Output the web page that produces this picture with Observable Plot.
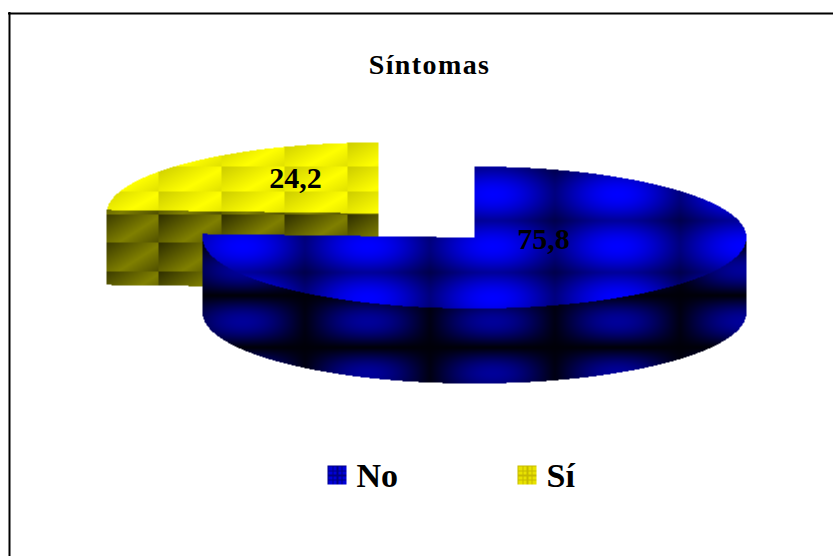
<!DOCTYPE html>
<html lang="es">
<head>
<meta charset="utf-8">
<title>Síntomas</title>
<style>
  html, body { margin: 0; padding: 0; background: #fff; }
  svg { display: block; }
</style>
<script src="https://cdn.jsdelivr.net/npm/d3@7"></script>
<script src="https://cdn.jsdelivr.net/npm/@observablehq/plot@0.6"></script>
</head>
<body>
<script>
// Survey shares: respondents reporting symptoms.
const chartTitle = "Síntomas";
const categories = ["No", "Sí"];
const shares = [75.8, 24.2];

// Layout of the 3D pie, in the chart's own pixel-sized units.
const W = 833, H = 556;
const pie = {cx: 474, cy: 237, rx: 272, ry: 71, depth: 75};
const explode = [[0, 0], [-96, -24]];      // displacement of each slice
const labelAt = [[543, 239], [295, 178]];  // where each share is written
const legendAt = [[327, 465], [517, 465]]; // top-left corner of each swatch
const swatch = 19;
const serif = "'Liberation Serif', serif";

const TAU = 2 * Math.PI;
const total = d3.sum(shares);
const clamp01 = (v) => Math.max(0, Math.min(1, v));
const frac = (v) => v - Math.floor(v);

// Blue surface: soft glow crossed by narrow dark bands.
const band = (v, at, period) => Math.pow(0.5 + 0.5 * Math.cos(TAU * (v - at) / period), 0.55);
function blueTop(x, y) {
  const b = 255 * (1 - 0.5 * (1 - band(x, 492, 125))) * (1 - 0.4 * (1 - band(y, 194, 52)));
  return `rgb(0,0,${Math.round(b)})`;
}
function blueSide(x, y) {
  const b = 8 + 145 * (0.08 + 0.92 * band(x, 492, 125)) * band(y, 321, 52);
  return `rgb(0,0,${Math.round(b)})`;
}

// Yellow surface: tiles with a diagonal sheen.
function sheen(x, y, y0, tileH) {
  const u = frac((x - 158) / 63), w = frac((y - y0) / tileH);
  const s = 0.7 * u + 0.5 * w;
  return clamp01(1 - Math.abs(s - 0.75) / 0.75);
}
function yellowTop(x, y) {
  const v = Math.round(204 + 51 * sheen(x, y, 166, 25));
  return `rgb(${v},${v},0)`;
}
function yellowSide(x, y) {
  const v = Math.round(46 + 82 * sheen(x, y, 214, 28.5));
  return `rgb(${v},${v},0)`;
}
const surfaces = [[blueTop, blueSide], [yellowTop, yellowSide]];

// Sweep of every slice, clockwise from twelve o'clock.
let acc = 0;
const slices = categories.map((name, i) => {
  const a0 = acc / total * TAU;
  acc += shares[i];
  return {
    name, value: shares[i], a0, a1: acc / total * TAU,
    cx: pie.cx + explode[i][0], cy: pie.cy + explode[i][1],
    top: surfaces[i][0], side: surfaces[i][1]
  };
});

const inSweep = (s, a) => a >= s.a0 && a <= s.a1;

// Colour of a slice at a point, or null where the slice is absent.
function paint(s, x, y) {
  const dx = (x - s.cx) / pie.rx, dy = (y - s.cy) / pie.ry;
  if (dx * dx + dy * dy <= 1) {
    const a = (Math.atan2(dx, -dy) + TAU) % TAU;
    if (inSweep(s, a)) return s.top(x, y);
  }
  if (Math.abs(dx) > 1) return null;
  // Outer wall, below the near half of the rim.
  const rim = Math.sqrt(1 - dx * dx);
  const yRim = s.cy + pie.ry * rim;
  const aFront = (Math.atan2(dx, -rim) + TAU) % TAU;
  if (inSweep(s, aFront) && y >= yRim && y <= yRim + pie.depth) return s.side(x, y);
  // Cut wall along the slice's starting radius, when it faces the viewer.
  if (Math.sin(s.a0) < -1e-6) {
    const ex = Math.sin(s.a0), ey = -Math.cos(s.a0);
    const t = dx / ex;
    if (t >= 0 && t <= 1) {
      const yCut = s.cy + pie.ry * ey * t;
      if (y >= yCut && y <= yCut + pie.depth) return s.side(x, y);
    }
  }
  return null;
}

// One raster per slice, far slice first so the near one overlaps it.
const sliceRaster = (s) => {
  const x1 = Math.floor(s.cx - pie.rx) - 1, x2 = Math.ceil(s.cx + pie.rx) + 1;
  const y1 = Math.floor(s.cy - pie.ry) - 1, y2 = Math.ceil(s.cy + pie.ry + pie.depth) + 1;
  return Plot.raster({
    x1, x2, y1, y2, width: x2 - x1, height: y2 - y1,
    fill: (x, y) => paint(s, x, y)
  });
};

// Legend swatches carry a miniature version of each texture.
const swatchColors = [[[0, 0, 214], [0, 0, 130]], [[232, 226, 0], [198, 186, 0]]];
const swatchRaster = (i) => {
  const [x1, y1] = legendAt[i];
  const [light, dark] = swatchColors[i];
  return Plot.raster({
    x1, y1, x2: x1 + swatch, y2: y1 + swatch, width: swatch, height: swatch,
    fill: (x, y) => {
      const seam = frac((x - x1) / 4.75) < 0.22 || frac((y - y1) / 4.75) < 0.22;
      const c = seam ? dark : light;
      return `rgb(${c[0]},${c[1]},${c[2]})`;
    }
  });
};

const chart = Plot.plot({
  width: W, height: H, margin: 0,
  x: {domain: [0, W], range: [0, W], axis: null},
  y: {domain: [0, H], range: [0, H], axis: null},
  style: {background: "#fff", fontFamily: serif},
  marks: [
    // Chart border: only the top and left edges fall inside the page.
    Plot.ruleY([13], {x1: 8, x2: W, stroke: "#000", strokeWidth: 2}),
    Plot.ruleX([9], {y1: 12, y2: H, stroke: "#000", strokeWidth: 2}),
    ...[slices[1], slices[0]].map(sliceRaster),
    Plot.text([chartTitle], {
      x: 429, y: 65, text: (d) => d, fontSize: 28, fontWeight: "bold", fill: "#000",
      render(i, s, v, d, c, next) {
        const g = next(i, s, v, d, c);
        g.style.letterSpacing = "1.4px";
        return g;
      }
    }),
    Plot.text(slices, {
      x: (d, i) => labelAt[i][0], y: (d, i) => labelAt[i][1],
      text: (d) => String(d.value).replace(".", ","),
      fontSize: 30, fontWeight: "bold", fill: "#000"
    }),
    ...categories.map((_, i) => swatchRaster(i)),
    Plot.text(categories, {
      x: (d, i) => legendAt[i][0] + 29, y: 476, text: (d) => d,
      textAnchor: "start", fontSize: 34, fontWeight: "bold", fill: "#000"
    })
  ]
});
document.body.append(chart);
</script>
</body>
</html>
